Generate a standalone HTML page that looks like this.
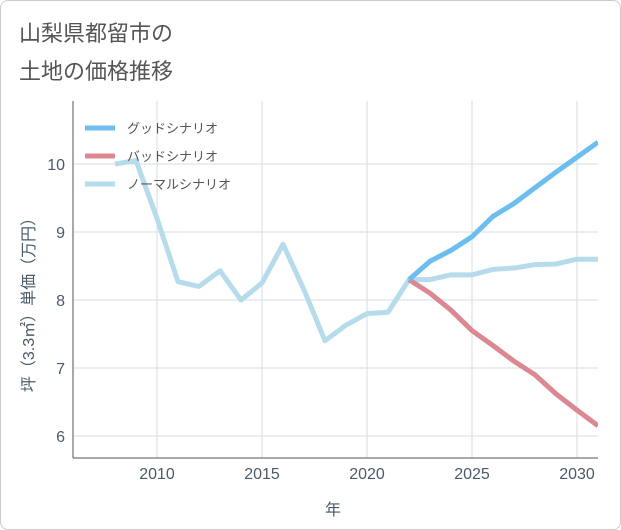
<!DOCTYPE html>
<html><head><meta charset="utf-8"><style>
body{margin:0;background:#fff;font-family:"Liberation Sans","Noto Sans CJK JP",sans-serif;}
#wrap{position:relative;width:619px;height:528px;border:1px solid #ccc;border-radius:8px;overflow:hidden;background:#fff}
</style></head><body>
<div id="wrap">
<svg id="c" width="621" height="530"></svg>
</div>
<script>
const years=[2008,2009,2010,2011,2012,2013,2014,2015,2016,2017,2018,2019,2020,2021,2022,2023,2024,2025,2026,2027,2028,2029,2030,2031];
const normal=[10.0,10.05,9.2,8.27,8.2,8.43,8.0,8.25,8.82,8.15,7.4,7.63,7.8,7.82,8.3,8.3,8.37,8.37,8.45,8.47,8.52,8.53,8.6,8.6];
const futureYears=[2022,2023,2024,2025,2026,2027,2028,2029,2030,2031];
const good=[8.3,8.57,8.73,8.93,9.23,9.42,9.65,9.88,10.1,10.32];
const bad=[8.3,8.1,7.85,7.55,7.33,7.1,6.9,6.62,6.38,6.15];
const xTicks=[2010,2015,2020,2025,2030];
const yTicks=[6,7,8,9,10];
const NS="http://www.w3.org/2000/svg";
const svg=document.getElementById('c');
const X=v=>156+(v-2010)*21;
const Y=v=>163+(10-v)*68;
function mk(t,a,p){const e=document.createElementNS(NS,t);for(const k in a)e.setAttribute(k,a[k]);(p||svg).appendChild(e);return e;}
let t=mk('text',{x:18,y:40,fill:'#555','font-size':22});t.textContent='山梨県都留市の';

t=mk('text',{x:18,y:78,fill:'#555','font-size':22});t.textContent='土地の価格推移';

xTicks.forEach(v=>{const l=mk('line',{x1:X(v),x2:X(v),y1:100,y2:457,stroke:'#d5dde5'});

const tx=mk('text',{x:X(v),y:478,'text-anchor':'middle',fill:'#4a5a6a','font-size':16});tx.textContent=v;
});
yTicks.forEach(v=>{const l=mk('line',{x1:72,x2:597,y1:Y(v),y2:Y(v),stroke:'#d5dde5'});

const tx=mk('text',{x:64,y:Y(v)+6,'text-anchor':'end',fill:'#4a5a6a','font-size':16});tx.textContent=v;
});
let ax=mk('line',{x1:72,x2:72,y1:100,y2:457,stroke:'#555'});
ax=mk('line',{x1:72,x2:597,y1:457,y2:457,stroke:'#555'});
t=mk('text',{x:332,y:514,'text-anchor':'middle',fill:'#4a5a6a','font-size':16});t.textContent='年';

t=mk('text',{x:0,y:0,'text-anchor':'middle',fill:'#4a5a6a','font-size':16,transform:'translate(33,300) rotate(-90)'});t.textContent='坪（3.3㎡）単価（万円）';

const g=mk('g',{'clip-path':'url(#cl)'});
const cp=mk('clipPath',{id:'cl'});mk('rect',{x:72,y:100,width:525,height:357},cp);
function line(xs,ys,col,name){const p=mk('polyline',{points:xs.map((x,i)=>X(x)+','+Y(ys[i])).join(' '),fill:'none',stroke:col,'stroke-width':5,'stroke-linejoin':'round'},g);
}
line(years,normal,'#b6dcec','normal-scenario-line');
line(futureYears,bad,'#dc8890','bad-scenario-line');
line(futureYears,good,'#6cbdf0','good-scenario-line');
[['グッドシナリオ','#6cbdf0',127],['バッドシナリオ','#dc8890',155],['ノーマルシナリオ','#b6dcec',183]].forEach(([n,c,y])=>{
const l=mk('line',{x1:84,x2:114,y1:y,y2:y,stroke:c,'stroke-width':5});
const tx=mk('text',{x:126,y:y+5,fill:'#555','font-size':13});tx.textContent=n;});
</script>
</body></html>
